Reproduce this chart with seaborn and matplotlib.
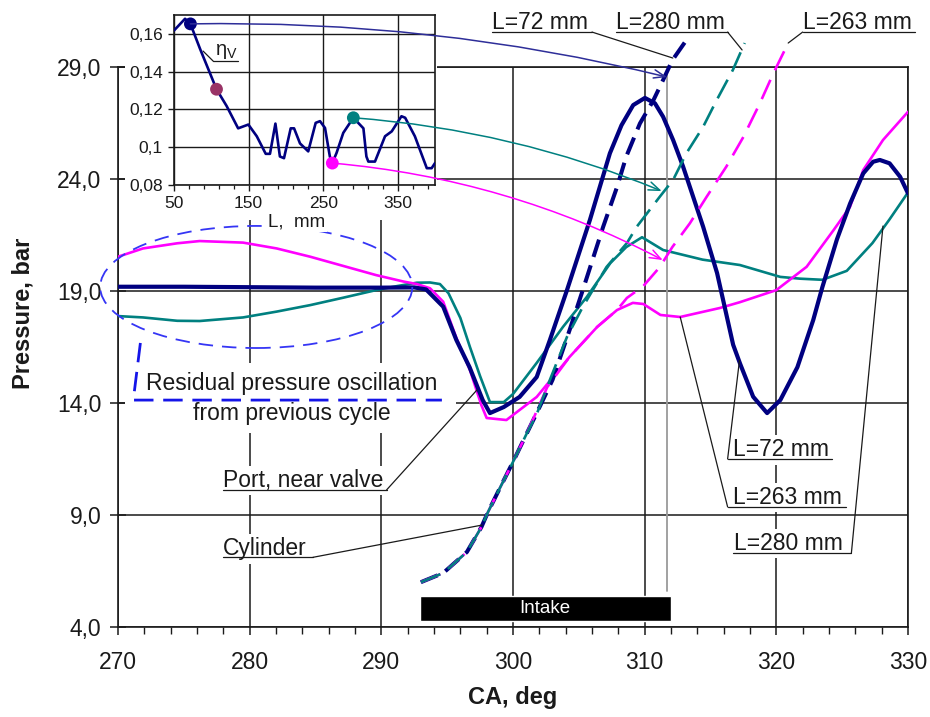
import matplotlib
matplotlib.use("Agg")
import matplotlib.pyplot as plt
import numpy as np
import seaborn as sns
from matplotlib.patches import Ellipse, Rectangle, ConnectionPatch
from matplotlib.ticker import FixedLocator, MultipleLocator, FuncFormatter

# ---------------- data ----------------
ca_ticks = [270, 280, 290, 300, 310, 320, 330]
p_ticks = [4.0, 9.0, 14.0, 19.0, 24.0, 29.0]

# Port pressure near the valve (bar) for three runner lengths
ca_port_72 = [270, 275, 280, 285, 290, 292.5, 293.4, 294.7, 295.7, 296.7, 297.7, 298.25,
              299.3, 300.5, 301.8, 302.8, 304.1, 305.84, 306.6, 307.36, 308.24, 309.13,
              310.02, 310.78, 311.4, 312.16, 312.92, 313.68, 314.44, 315.5, 316.72, 317.25,
              318.24, 319.3, 320.3, 321.6, 322.8, 323.5, 324.6, 325.6, 326.6, 327.35,
              327.86, 328.6, 329.4, 330.0]
p_port_72 = [19.19, 19.19, 19.17, 19.15, 19.15, 19.16, 19.07, 18.3, 16.81, 15.6, 14.13, 13.55,
             13.82, 14.27, 15.16, 16.81, 19.04, 22.17, 23.66, 25.15, 26.4, 27.3,
             27.62, 27.38, 26.78, 25.74, 24.55, 23.21, 21.87, 19.8, 16.6, 15.75,
             14.28, 13.55, 14.13, 15.6, 17.7, 19.18, 21.3, 22.9, 24.25, 24.77,
             24.85, 24.7, 24.1, 23.36]

ca_port_263 = [270, 271.9, 274.5, 276.2, 279.5, 282.05, 284.6, 287.1, 289.6, 291.7, 292.7,
               293.7, 294.7, 295.7, 296.73, 297.6, 298.0, 299.5, 301.8, 304.3, 306.4, 307.9,
               309.1, 309.9, 311.2, 312.7, 315.7, 317.23, 320.0, 322.3, 324.35, 325.6,
               326.6, 328.1, 330.0]
p_port_263 = [20.53, 20.9, 21.13, 21.23, 21.16, 20.9, 20.53, 20.12, 19.71, 19.42, 19.31,
              19.12, 18.52, 16.9, 15.47, 13.9, 13.33, 13.24, 14.27, 16.06, 17.4, 18.15,
              18.47, 18.42, 17.93, 17.84, 18.24, 18.5, 19.04, 20.08, 21.72, 22.76,
              24.4, 25.74, 27.0]

ca_port_280 = [270, 271.9, 274.5, 276.2, 279.5, 282.05, 284.6, 287.1, 289.6, 291.2, 292.7,
               293.7, 294.45, 295.1, 296.0, 296.73, 297.5, 298.25, 299.3, 300.0, 301.8,
               303.8, 305.6, 307.4, 308.6, 309.8, 311.4, 314.4, 317.23, 320.3, 321.8, 323.5,
               325.35, 327.3, 328.6, 330.0]
p_port_280 = [17.88, 17.82, 17.67, 17.66, 17.82, 18.08, 18.37, 18.7, 19.04, 19.22, 19.37,
              19.38, 19.31, 18.9, 17.8, 16.5, 15.2, 14.04, 14.04, 14.4, 15.79,
              17.4, 18.73, 20.25, 20.96, 21.4, 20.83, 20.4, 20.16, 19.63, 19.55, 19.5,
              19.9, 21.14, 22.2, 23.4]

# Cylinder pressure (bar) for three runner lengths
ca_cyl_72 = [293.0, 294.7, 296.5, 297.6, 298.1, 299.0, 300.0, 301.06, 301.8, 303.0, 304.3,
             305.3, 306.85, 307.9, 308.6, 309.64, 310.65, 311.4, 312.1, 313.05]
p_cyl_72 = [6.0, 6.41, 7.35, 8.46, 9.13, 10.2, 11.37, 12.66, 13.55, 15.03, 17.26,
            19.04, 21.87, 23.64, 25.0, 26.48, 27.5, 28.42, 29.3, 30.1]

ca_cyl_263 = [293.0, 294.7, 296.5, 297.6, 298.1, 299.0, 300.0, 301.06, 301.5, 302.6, 304.3,
              306.4, 307.9, 308.65, 309.9, 311.15, 312.1, 313.43, 314.7, 316.2, 317.5,
              318.75, 319.76, 320.9]
p_cyl_263 = [6.0, 6.41, 7.35, 8.46, 9.13, 10.2, 11.37, 12.66, 13.24, 14.71, 16.06,
             17.4, 18.15, 18.69, 19.22, 20.07, 20.96, 22.02, 23.2, 24.55, 25.88,
             27.38, 28.7, 30.07]

ca_cyl_280 = [293.0, 294.7, 296.5, 297.6, 298.1, 299.0, 300.0, 301.06, 301.8, 302.8, 304.1,
              305.3, 307.1, 308.65, 309.4, 311.15, 312.16, 313.17, 314.44, 315.45, 316.7,
              317.6]
p_cyl_280 = [6.0, 6.41, 7.35, 8.46, 9.13, 10.2, 11.37, 12.66, 13.5, 15.03, 16.95,
             18.29, 20.07, 21.14, 21.87, 23.21, 23.96, 25.15, 26.33, 27.5, 28.87, 30.07]

# Volumetric efficiency against runner length
runner_len = [50, 64.8, 72, 85, 107, 120.6, 136, 149.7, 161, 173, 178.7, 186, 192, 197.5,
              206.5, 211, 219, 230, 240, 245.8, 252.5, 259, 262.3, 268, 277, 290.5, 304,
              308, 310.6, 319.5, 333, 342, 355, 360, 373, 389, 395.5, 400]
eta_v = [0.1618, 0.168, 0.1653, 0.152, 0.1307, 0.1218, 0.110, 0.112, 0.1058, 0.0965, 0.0965,
         0.1125, 0.0951, 0.0942, 0.110, 0.110, 0.102, 0.0978, 0.1129, 0.1138, 0.1102, 0.0951,
         0.0916, 0.097, 0.1076, 0.1156, 0.110, 0.0951, 0.0924, 0.0924, 0.1058, 0.1084,
         0.1164, 0.1156, 0.1058, 0.0889, 0.0889, 0.0916]
marker_len = [72, 107, 262.3, 290.5]
marker_eta = [0.1653, 0.1307, 0.0916, 0.1156]
marker_names = ["L72", "L107", "L263", "L280"]

intake_open = 292.9
intake_close = 312.0
ivc_ca = 311.7

NAVY = "#000080"
MAGENTA = "#FF00FF"
TEAL = "#008080"
MAROON = "#993366"
BLUE = "#3535F5"
INK = "#1a1a1a"
FS = 16.5

sns.set_theme(style="white", rc={"axes.edgecolor": INK, "xtick.color": INK,
                                 "ytick.color": INK, "text.color": INK,
                                 "axes.labelcolor": INK})
plt.rcParams["font.family"] = ["Liberation Sans", "DejaVu Sans"]

fig = plt.figure(figsize=(9.3, 7.17), dpi=100)
W, H = 930.0, 717.0
ax = fig.add_axes([118 / W, 1 - 627 / H, 790 / W, 560 / H])

# ---------------- main axes ----------------
ax.set_xlim(270, 330)
ax.set_ylim(4, 29)
ax.set_axisbelow(True)
ax.xaxis.set_major_locator(FixedLocator(ca_ticks))
ax.xaxis.set_minor_locator(MultipleLocator(2))
ax.yaxis.set_major_locator(FixedLocator(p_ticks))
ax.yaxis.set_major_formatter(FuncFormatter(lambda v, _: f"{v:.1f}".replace(".", ",")))
ax.grid(True, which="major", color=INK, lw=1.1)
for s in ax.spines.values():
    s.set_color(INK)
    s.set_linewidth(1.2)
ax.tick_params(axis="x", which="major", direction="out", length=6, width=1.1,
               pad=11, labelsize=FS, bottom=True)
ax.tick_params(axis="x", which="minor", direction="out", length=5, width=1.0, bottom=True)
ax.tick_params(axis="y", which="major", direction="inout", length=12, width=1.1,
               pad=6, labelsize=FS, left=True)
ax.set_xlabel("CA, deg", fontsize=17, fontweight="bold")
ax.set_ylabel("Pressure, bar", fontsize=17, fontweight="bold")
ax.xaxis.set_label_coords(0.5, -0.105)
ax.yaxis.set_label_coords(-0.106, 0.56)

# port pressure curves
sns.lineplot(x=ca_port_280, y=p_port_280, ax=ax, color=TEAL, lw=1.9,
             estimator=None, sort=False, zorder=3)
sns.lineplot(x=ca_port_263, y=p_port_263, ax=ax, color=MAGENTA, lw=1.9,
             estimator=None, sort=False, zorder=3)
sns.lineplot(x=ca_port_72, y=p_port_72, ax=ax, color=NAVY, lw=3.0,
             estimator=None, sort=False, zorder=3, solid_joinstyle="round")

# cylinder pressure curves (dashed, running above the frame)
sns.lineplot(x=ca_cyl_72, y=p_cyl_72, ax=ax, color=NAVY, lw=2.9,
             linestyle=(0, (4.5, 2.2)), estimator=None, sort=False, zorder=4, clip_on=False)
sns.lineplot(x=ca_cyl_263, y=p_cyl_263, ax=ax, color=MAGENTA, lw=1.9,
             linestyle=(0, (8, 4)), estimator=None, sort=False, zorder=4, clip_on=False)
sns.lineplot(x=ca_cyl_280, y=p_cyl_280, ax=ax, color=TEAL, lw=1.9,
             linestyle=(0, (8, 3.5)), estimator=None, sort=False, zorder=4, clip_on=False)

# intake valve closing marker
ax.plot([ivc_ca, ivc_ca], [5.6, 28.7], color="#9a9a9a", lw=1.3, zorder=2)

# intake period bar
ax.barh(y=4.82, width=intake_close - intake_open, left=intake_open, height=1.1,
        color="black", zorder=5)
ax.text((intake_open + intake_close) / 2, 4.82, "Intake", color="white", fontsize=13.5,
        ha="center", va="center", zorder=6)

# residual oscillation highlight
ax.add_patch(Ellipse((280.5, 19.18), 23.7, 5.45, fill=False, ec=BLUE, lw=1.3,
                     linestyle=(0, (8, 5)), clip_on=False, zorder=6))
ax.add_patch(Rectangle((270.5, 12.66), 25.2, 3.13, fc="white", ec="none", zorder=1))
ax.plot([271.7, 271.16, 294.6], [16.68, 14.13, 14.13], color="#1515E8", lw=2.0,
        linestyle=(0, (7, 3.5)), clip_on=False, zorder=6)
ax.text(283.2, 14.89, "Residual pressure oscillation", fontsize=FS, ha="center",
        va="center", zorder=2)
ax.text(283.2, 13.55, "from previous cycle", fontsize=FS, ha="center", va="center", zorder=2)


def callout(text, x_text, y_base, x_ul0, x_ul1, y_ul, x_from, target, box=True):
    kw = dict(fc="white", ec="none", pad=2.5) if box else None
    ax.text(x_text, y_base, text, fontsize=FS, ha="left", va="baseline",
            bbox=kw, zorder=2, clip_on=False)
    ax.plot([x_ul0, x_ul1], [y_ul, y_ul], color=INK, lw=0.9, clip_on=False, zorder=7)
    ax.plot([x_from, target[0]], [y_ul, target[1]], color=INK, lw=0.9,
            clip_on=False, zorder=7)


callout("Port, near valve", 278.0, 10.25, 278.0, 290.4, 10.12, 290.4, (297.26, 14.58))
callout("Cylinder", 278.0, 7.21, 278.0, 284.8, 7.11, 284.8, (297.64, 8.55))
callout("L=72 mm", 316.7, 11.63, 316.3, 324.2, 11.5, 316.3, (317.2, 15.9))
callout("L=263 mm", 316.7, 9.49, 316.3, 325.3, 9.36, 316.3, (312.7, 17.84))
callout("L=280 mm", 316.75, 7.44, 316.7, 325.7, 7.30, 325.7, (328.1, 21.9))
callout("L=72 mm", 298.4, 30.70, 298.4, 306.0, 30.56, 306.0, (312.14, 29.4), box=False)
callout("L=280 mm", 307.8, 30.70, 307.8, 316.3, 30.56, 316.3, (317.4, 29.76), box=False)
callout("L=263 mm", 322.0, 30.70, 322.0, 330.5, 30.56, 322.0, (320.9, 30.07), box=False)

# white backing for the inset area
fig.add_artist(Rectangle((125 / W, 1 - 220 / H), (437 - 125) / W, 220 / H,
                         transform=fig.transFigure, fc="white", ec="none", zorder=2))

# ---------------- inset: volumetric efficiency ----------------
axin = fig.add_axes([174 / W, 1 - 185 / H, 261 / W, 170 / H], zorder=3)
axin.set_facecolor("white")
axin.set_xlim(50, 400)
axin.set_ylim(0.08, 0.17)
axin.set_axisbelow(True)
axin.xaxis.set_major_locator(FixedLocator([50, 150, 250, 350]))
axin.xaxis.set_minor_locator(FixedLocator(np.arange(50, 401, 20)))
axin.yaxis.set_major_locator(FixedLocator([0.08, 0.10, 0.12, 0.14, 0.16]))
axin.yaxis.set_major_formatter(FuncFormatter(
    lambda v, _: ("%.2f" % v).rstrip("0").replace(".", ",")))
axin.grid(True, which="major", color=INK, lw=1.0)
for s in axin.spines.values():
    s.set_color(INK)
    s.set_linewidth(1.2)
axin.tick_params(axis="both", which="major", direction="out", length=4, width=1.0,
                 labelsize=12.5, pad=4, bottom=True, left=True)
axin.tick_params(axis="x", which="minor", direction="out", length=3, width=0.9, bottom=True)
axin.set_xlabel("L,  mm", fontsize=13.5,
                bbox=dict(fc="white", ec="none", pad=1))
axin.xaxis.set_label_coords(0.47, -0.17)

sns.lineplot(x=runner_len, y=eta_v, ax=axin, color=NAVY, lw=1.9,
             estimator=None, sort=False, zorder=3)
sns.scatterplot(x=marker_len, y=marker_eta, hue=marker_names, ax=axin,
                palette=[NAVY, MAROON, MAGENTA, TEAL], s=85, edgecolor="none",
                legend=False, zorder=4)

axin.text(105, 0.1488, r"$\mathregular{\eta_V}$", fontsize=14.5, ha="left", va="baseline")
axin.plot([102.5, 136], [0.1456, 0.1456], color=INK, lw=0.9)
axin.plot([102.5, 89], [0.1456, 0.1509], color=INK, lw=0.9)

# arrows linking inset points to the pressure traces
links = [
    ((72, 0.1653), (311.7, 28.55), "#2e2e99", -0.065),
    ((290.5, 0.1156), (311.3, 23.46), TEAL, -0.08),
    ((262.3, 0.0916), (311.38, 20.38), MAGENTA, -0.1),
]
for a, b, col, rad in links:
    con = ConnectionPatch(xyA=a, coordsA=axin.transData, xyB=b, coordsB=ax.transData,
                          arrowstyle="->,head_length=0.8,head_width=0.3",
                          connectionstyle=f"arc3,rad={rad}", color=col, lw=1.1,
                          mutation_scale=10)
    con.set_zorder(6)
    fig.add_artist(con)

fig.savefig("out.png", dpi=100)
